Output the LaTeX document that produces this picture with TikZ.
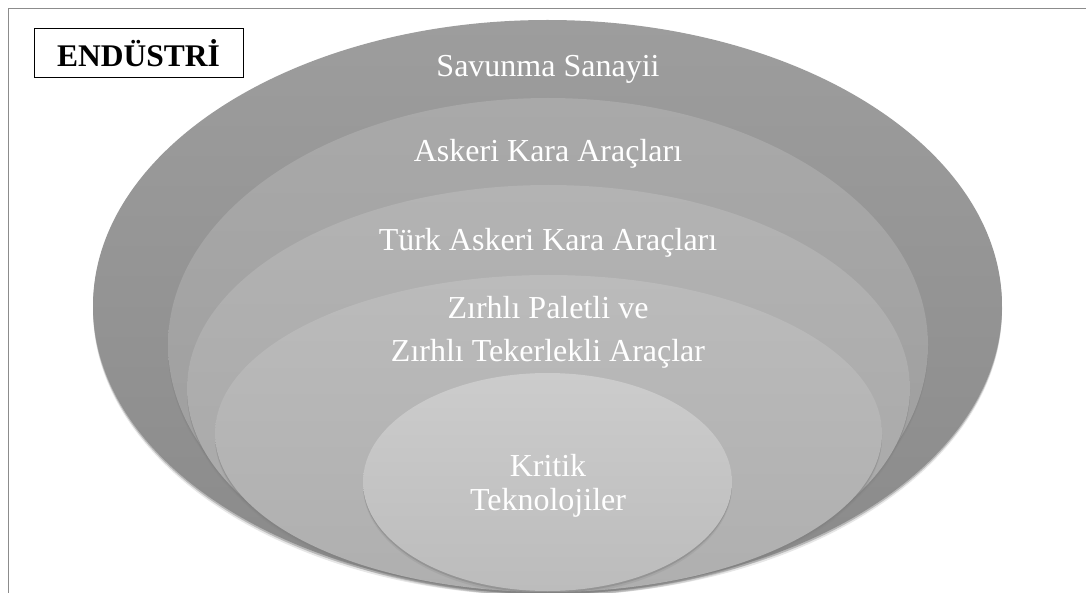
\documentclass[tikz,border=0pt]{standalone}
\usepackage{fontspec}
\setmainfont{Liberation Serif}
\usetikzlibrary{shapes.geometric,shadows}

\definecolor{framegray}{HTML}{8C8C8C}
\definecolor{lay1top}{HTML}{9D9D9D}
\definecolor{lay1bot}{HTML}{8A8A8A}
\definecolor{lay2top}{HTML}{A9A9A9}
\definecolor{lay2bot}{HTML}{9C9C9C}
\definecolor{lay3top}{HTML}{B3B3B3}
\definecolor{lay3bot}{HTML}{A7A7A7}
\definecolor{lay4top}{HTML}{BBBBBB}
\definecolor{lay4bot}{HTML}{AFAFAF}
\definecolor{lay5top}{HTML}{CCCCCC}
\definecolor{lay5bot}{HTML}{BCBCBC}

\begin{document}
\begin{tikzpicture}[x=1pt,y=-1pt,
		layer/.style={ellipse,inner sep=0pt,draw=none,
			drop shadow={shadow xshift=0pt,shadow yshift=-4pt,opacity=.2},
			drop shadow={shadow xshift=0pt,shadow yshift=-2pt,opacity=.45}},
		lbl/.style={text=white,align=center,font=\fontsize{32}{36}\selectfont}]
		\useasboundingbox (0,0) rectangle (1086,593);
		\draw[framegray,line width=1.5pt] (8.5,8.5) rectangle (1110,620);
		
		% nested layers, outer to inner
		\foreach \i/\cx/\cy/\w/\h in {1/547.5/306/909/572, 2/548/345/760/494, 3/548.5/388.5/723/407, 4/548.5/433.5/667/317, 5/547.5/482/369/218}{
			\node[layer,top color=lay\i top,bottom color=lay\i bot,minimum width=\w,minimum height=\h] (e\i) at (\cx,\cy) {};
		}
		
		\node[lbl] (savunma) at (548,69) {Savunma Sanayii};
		\node[lbl] (askeri) at (548,154) {Askeri Kara Araçları};
		\node[lbl] (turk) at (548,243) {Türk Askeri Kara Araçları};
		\node[lbl] (zirhli) at (548,332) {Zırhlı Paletli ve\\[7pt]Zırhlı Tekerlekli Araçlar};
		\node[lbl,font=\fontsize{32}{34}\selectfont] (kritik) at (548,486) {Kritik\\Teknolojiler};
		
		\node[draw=black,line width=1pt,fill=white,minimum width=209,minimum height=49,inner sep=0pt,
			font=\bfseries\fontsize{31.5}{34}\selectfont] (endustri) at (138.5,53.5) {ENDÜSTRİ};
	\end{tikzpicture}
\end{document}
